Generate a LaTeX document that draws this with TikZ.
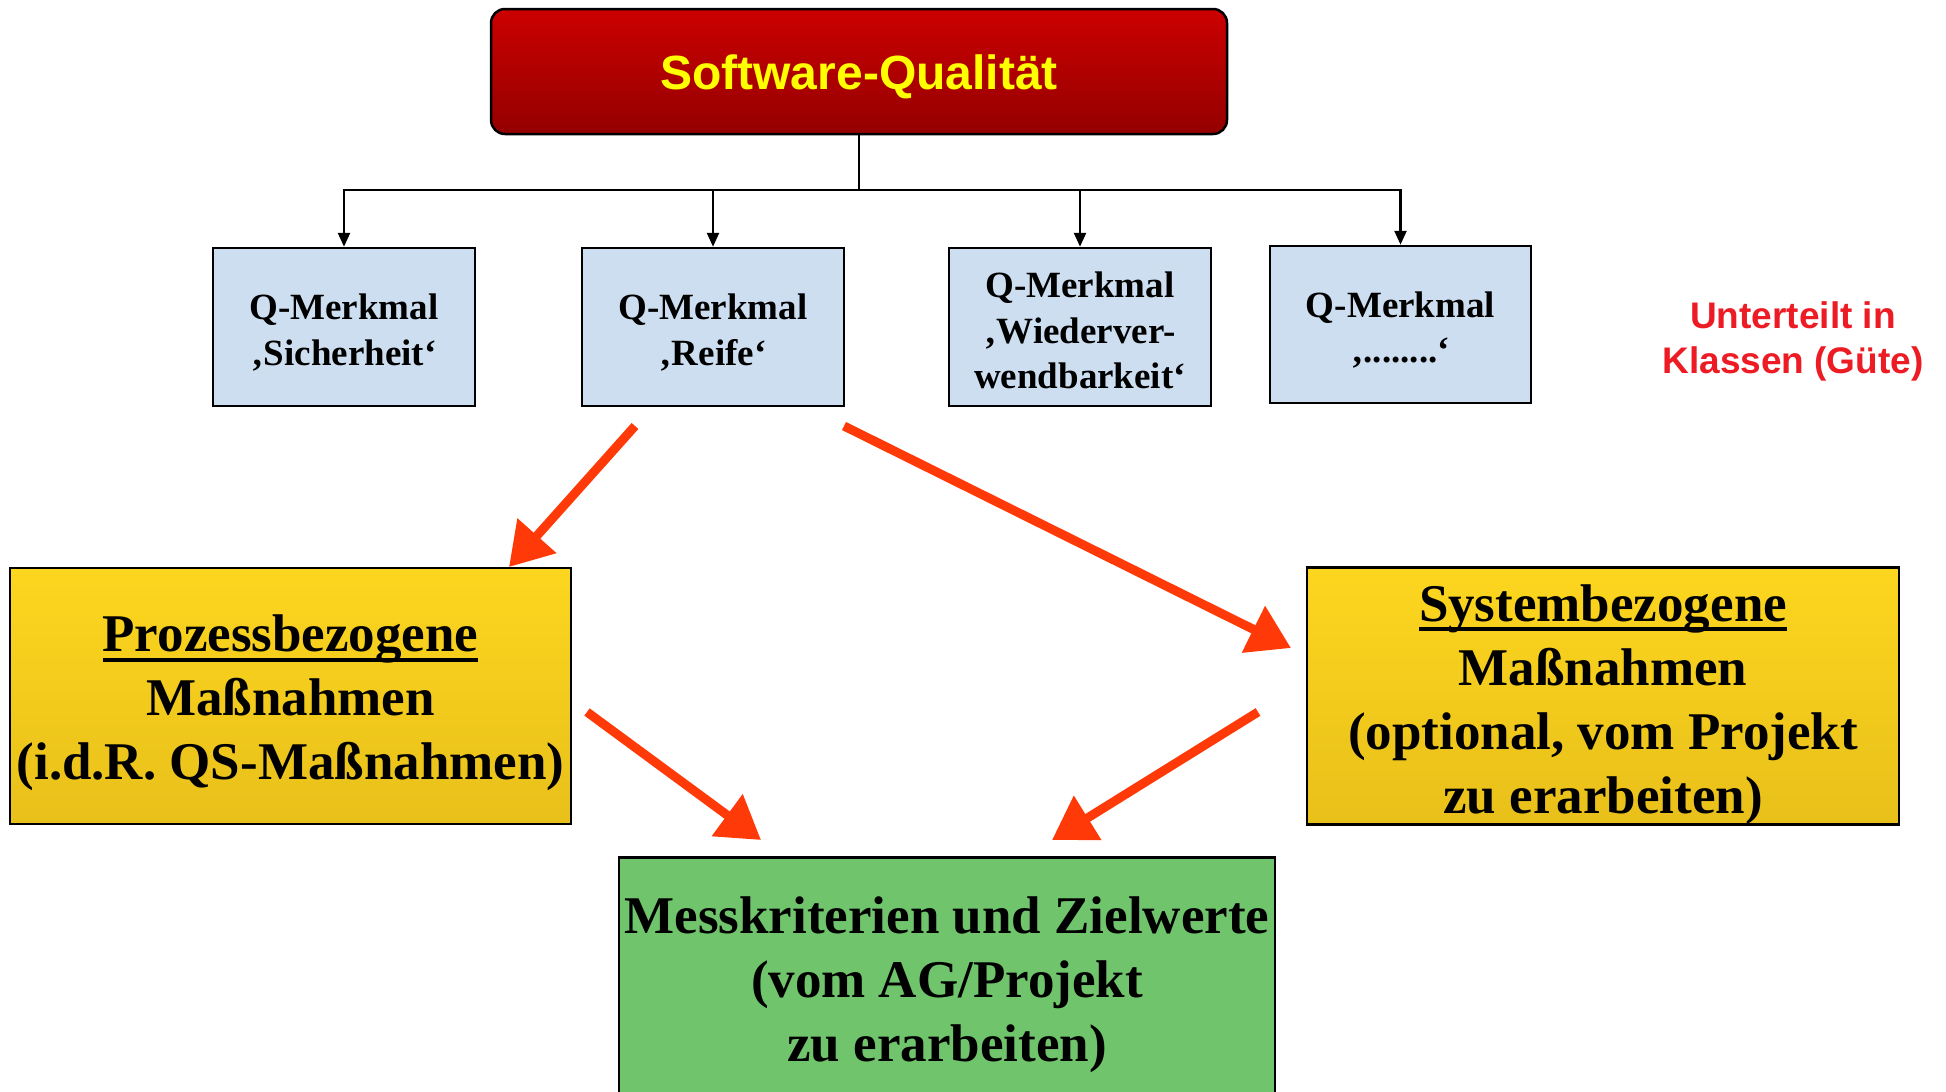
\documentclass[tikz,border=0pt]{standalone}
\usepackage{fontspec}
\setmainfont{Liberation Serif}
\newfontfamily\sansf{Liberation Sans}
\newcommand\myuline[1]{\setbox0\hbox{#1}\rlap{\rule[-10pt]{\wd0}{4pt}}\box0}
\newcommand\lift[1]{\rule{0pt}{#1}}
\usetikzlibrary{arrows.meta}
\definecolor{rtop}{RGB}{204,0,0}
\definecolor{rbot}{RGB}{148,0,0}
\definecolor{titleyel}{RGB}{255,255,0}
\definecolor{qblue}{RGB}{204,222,240}
\definecolor{ytop}{RGB}{253,214,31}
\definecolor{ybot}{RGB}{232,192,26}
\definecolor{gfill}{RGB}{112,196,108}
\definecolor{redarrow}{RGB}{255,58,8}
\definecolor{labelred}{RGB}{237,28,36}
\tikzset{
  topbox/.style={draw=black, line width=2.5pt, rounded corners=14pt, top color=rtop, bottom color=rbot,
    minimum width=736pt, minimum height=125pt, inner sep=0pt,
    text=titleyel, font=\sansf\fontsize{48}{56}\selectfont\bfseries},
  qbox/.style={draw=black, line width=2.5pt, fill=qblue, minimum width=262pt, minimum height=158pt,
    inner sep=0pt, align=center, font=\fontsize{37}{45.5}\selectfont\bfseries},
  ybox/.style={draw=black, line width=2.5pt, top color=ytop, bottom color=ybot, minimum height=256pt,
    inner sep=0pt, align=center, font=\fontsize{53}{64}\selectfont\bfseries},
  gbox/.style={draw=black, line width=2.5pt, fill=gfill, minimum width=656pt, minimum height=250pt,
    inner sep=0pt, align=center, font=\fontsize{53}{64}\selectfont\bfseries},
  conn/.style={draw=black, line width=2.5pt},
  connarrow/.style={conn, -{Triangle[length=14pt,width=12pt]}},
  redarr/.style={draw=redarrow, line width=9pt, -{Triangle[length=42pt,width=50pt]}},
  redlabel/.style={text=labelred, align=center, font=\sansf\fontsize{37}{45}\selectfont\bfseries}
}
\begin{document}
\begin{tikzpicture}[x=1pt,y=1pt]
\useasboundingbox (0,0) rectangle (1946,-1092);
\fill[white] (0,0) rectangle (1946,-1092);

\node[topbox] (top) at (859,-71.5) {\lift{45pt}Software-Qualität};

\node[qbox] (q1) at (344,-327) {\lift{37pt}Q-Merkmal\\‚Sicherheit‘};
\node[qbox] (q2) at (713,-327) {\lift{37pt}Q-Merkmal\\‚Reife‘};
\node[qbox] (q3) at (1080,-327) {\lift{33pt}Q-Merkmal\\‚Wiederver-\\wendbarkeit‘};
\node[qbox, minimum width=261pt, minimum height=157pt] (q4) at (1400.5,-324.5) {\lift{37pt}Q-Merkmal\\‚........‘};

\node[redlabel] (lab) at (1793,-341) {Unterteilt in\\Klassen (Güte)};

\node[ybox, minimum width=561pt] (pL) at (290.5,-696) {\lift{51pt}\myuline{Prozessbezogene}\\Maßnahmen\\(i.d.R. QS-Maßnahmen)};
\node[ybox, minimum width=592pt] (pR) at (1603,-696) {\lift{54pt}\myuline{Systembezogene}\\Maßnahmen\\(optional, vom Projekt\\zu erarbeiten)};

\node[gbox, anchor=north] (g) at (947,-856) {\lift{41pt}Messkriterien und Zielwerte\\(vom AG/Projekt\\zu erarbeiten)};

% tree connectors
\coordinate (j) at (859,-190);
\draw[conn] (top.south) -- (j);
\draw[connarrow] (j) -| (q1.north);
\draw[connarrow] (j) -| (q2.north);
\draw[connarrow] (j) -| (q3.north);
\draw[connarrow] (j) -| (q4.north);

% red arrows
\coordinate (a1s) at (635,-426);
\coordinate (a1e) at (509,-567);
\coordinate (a2s) at (844,-426);
\coordinate (a2e) at (1291,-648);
\coordinate (a3s) at (587,-712);
\coordinate (a3e) at (761,-840);
\coordinate (a4s) at (1258,-712);
\coordinate (a4e) at (1052,-840);
\draw[redarr] (a1s) -- (a1e);
\draw[redarr] (a2s) -- (a2e);
\draw[redarr] (a3s) -- (a3e);
\draw[redarr] (a4s) -- (a4e);
\end{tikzpicture}
\end{document}
